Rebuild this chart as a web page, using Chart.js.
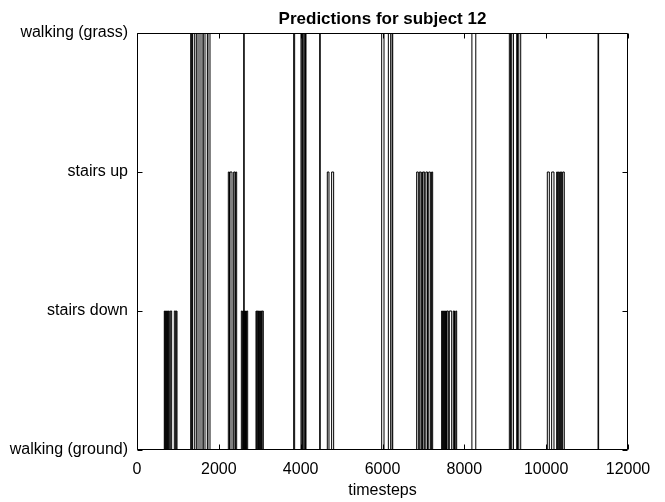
<!DOCTYPE html>
<html>
<head>
<meta charset="utf-8">
<script src="https://cdn.jsdelivr.net/npm/chart.js@4"></script>
<style>
  body { margin: 0; background: #fff; }
</style>
</head>
<body>
<canvas id="predChart" width="665" height="502"></canvas>
<script>
// class names, index = predicted label
const classNames = ['walking (ground)', 'stairs down', 'stairs up', 'walking (grass)'];

// each pulse: the prediction leaves "walking (ground)" at start, comes back at end
const pulseStart = [
    667, 692, 717, 742, 767, 814, 912, 960,
    1312, 1348, 1410, 1491, 1589, 1662, 1735,
    2232, 2273, 2363, 2410,
    2550, 2590, 2608, 2625, 2652, 2678,
    2908, 2938, 2968, 2998, 3028, 3060,
    3829, 4008, 4042, 4085, 4118, 4465,
    4651, 4757,
    5980, 6143, 6235,
    6835, 6900, 6960, 6990, 7060, 7130, 7200,
    7446, 7472, 7498, 7524, 7550, 7576, 7633, 7731, 7790,
    8185,
    9100, 9158, 9280, 9330,
    10028, 10134, 10256, 10297, 10335, 10370, 10405,
    11268
];
const pulseEnd = [
    680, 705, 730, 755, 789, 847, 945, 978,
    1336, 1361, 1450, 1540, 1621, 1719, 1784,
    2260, 2322, 2395, 2436,
    2575, 2605, 2620, 2640, 2665, 2705,
    2925, 2955, 2985, 3015, 3045, 3087,
    3853, 4030, 4060, 4105, 4130, 4478,
    4692, 4806,
    6037, 6200, 6250,
    6875, 6940, 6975, 7030, 7100, 7170, 7226,
    7460, 7486, 7512, 7538, 7564, 7609, 7691, 7760, 7813,
    8280,
    9130, 9200, 9300, 9378,
    10077, 10191, 10280, 10320, 10355, 10390, 10443,
    11282
];
const pulseLevel = [
    1, 1, 1, 1, 1, 1, 1, 1,
    3, 3, 3, 3, 3, 3, 3,
    2, 2, 2, 2,
    1, 1, 3, 1, 1, 1,
    1, 1, 1, 1, 1, 1,
    3, 3, 3, 3, 3, 3,
    2, 2,
    3, 3, 3,
    2, 2, 2, 2, 2, 2, 2,
    1, 1, 1, 1, 1, 1, 1, 1, 1,
    3,
    3, 3, 3, 3,
    2, 2, 2, 2, 2, 2, 2,
    3
];
const xTicks = [0, 2000, 4000, 6000, 8000, 10000, 12000];

// step series built from the pulses
const points = [{ x: 0, y: 0 }];
pulseStart.forEach((s, i) => {
    points.push({ x: s, y: pulseLevel[i] });
    points.push({ x: pulseEnd[i], y: 0 });
});
points.push({ x: 12000, y: 0 });

const FONT = "'Liberation Sans', Arial, Helvetica, sans-serif";

// black box round the plot and inward ticks on all four sides
const boxTicks = {
    id: 'boxTicks',
    afterDraw(chart) {
        const { ctx, chartArea: a, scales } = chart;
        ctx.save();
        ctx.strokeStyle = '#000';
        ctx.lineWidth = 1;
        ctx.beginPath();
        const l = Math.round(a.left) + 0.5, r = Math.round(a.right) - 0.5;
        const t = Math.round(a.top) + 0.5, b = Math.round(a.bottom) - 0.5;
        ctx.rect(l, t, r - l, b - t);
        scales.x.ticks.forEach(tk => {
            const px = Math.round(scales.x.getPixelForValue(tk.value)) + 0.5;
            ctx.moveTo(px, b); ctx.lineTo(px, b - 5);
            ctx.moveTo(px, t); ctx.lineTo(px, t + 5);
        });
        scales.y.ticks.forEach(tk => {
            const py = Math.round(scales.y.getPixelForValue(tk.value)) + 0.5;
            ctx.moveTo(l, py); ctx.lineTo(l + 5, py);
            ctx.moveTo(r, py); ctx.lineTo(r - 5, py);
        });
        ctx.stroke();
        ctx.restore();
    }
};

new Chart(document.getElementById('predChart').getContext('2d'), {
    type: 'line',
    data: {
        datasets: [{
            data: points,
            borderColor: '#000',
            borderWidth: 1,
            stepped: true,
            pointRadius: 0,
            fill: false,
        }]
    },
    options: {
        responsive: false,
        animation: false,
        layout: { padding: { left: 0, right: 37, top: 0, bottom: 0 } },
        plugins: {
            legend: { display: false },
            tooltip: { enabled: false },
            title: {
                display: true,
                text: 'Predictions for subject 12',
                fullSize: false,
                color: '#000',
                font: { family: FONT, size: 17, weight: 'bold' },
                padding: { top: 9, bottom: 3.6 }
            }
        },
        scales: {
            x: {
                type: 'linear',
                min: 0,
                max: 12000,
                afterBuildTicks: s => { s.ticks = xTicks.map(v => ({ value: v })); },
                afterFit: s => { s.height = 52; },
                grid: { drawOnChartArea: false, drawTicks: false },
                border: { display: false },
                ticks: {
                    color: '#000',
                    padding: 10,
                    maxRotation: 0,
                    autoSkip: false,
                    font: { family: FONT, size: 16 },
                    callback: v => String(v)
                },
                title: {
                    display: true,
                    text: 'timesteps',
                    color: '#000',
                    font: { family: FONT, size: 16 },
                    padding: { top: 0, bottom: 2 }
                }
            },
            y: {
                min: 0,
                max: 3,
                afterFit: s => { s.width = 137; },
                grid: { drawOnChartArea: false, drawTicks: false },
                border: { display: false },
                ticks: {
                    stepSize: 1,
                    color: '#000',
                    padding: 9,
                    font: { family: FONT, size: 16 },
                    callback: v => classNames[v]
                }
            }
        }
    },
    plugins: [boxTicks]
});
</script>
</body>
</html>
